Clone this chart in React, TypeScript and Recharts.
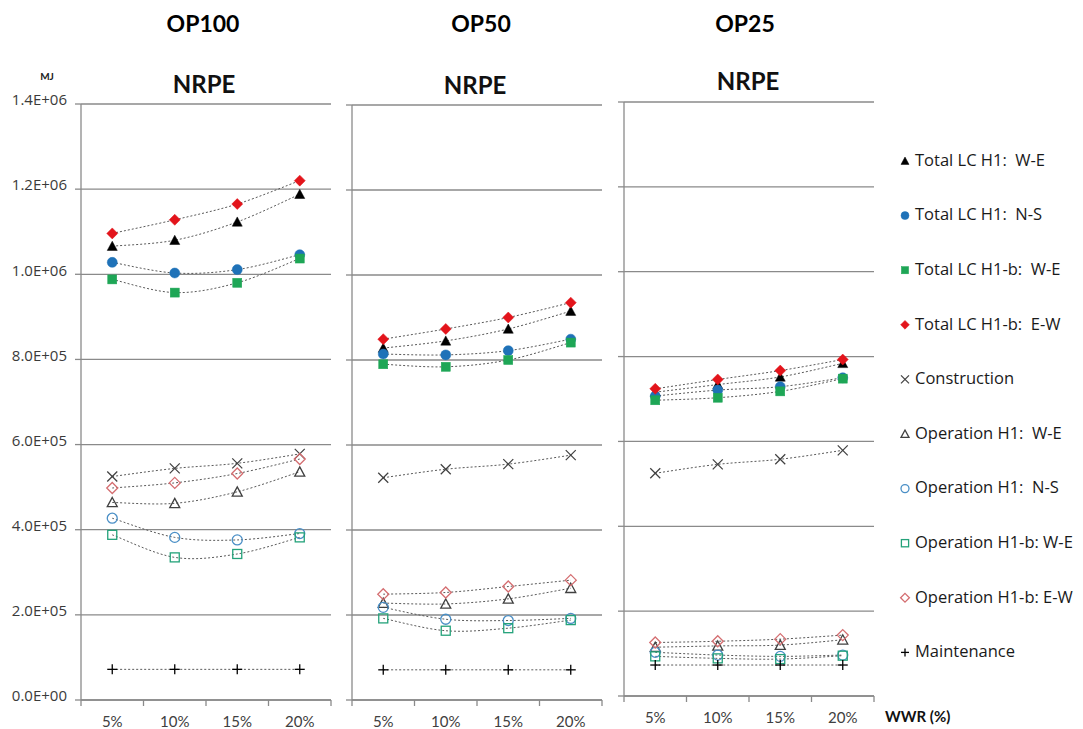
import React from 'react';
import { LineChart, Line, XAxis, YAxis, CartesianGrid } from 'recharts';

// ---------- data ----------
const categories = ['5%', '10%', '15%', '20%'];
const panelTitles = ['OP100', 'OP50', 'OP25'];
const yTicks = [0, 200000, 400000, 600000, 800000, 1000000, 1200000, 1400000];
const seriesNames = [
  'Total LC H1:  W-E',
  'Total LC H1:  N-S',
  'Total LC H1-b:  W-E',
  'Total LC H1-b:  E-W',
  'Construction',
  'Operation H1:  W-E',
  'Operation H1:  N-S',
  'Operation H1-b: W-E',
  'Operation H1-b: E-W',
  'Maintenance',
];

// OP100
const op100TotalH1WE = [1066000, 1080000, 1123000, 1188000];
const op100TotalH1NS = [1028000, 1003000, 1011000, 1046000];
const op100TotalH1bWE = [988000, 957000, 980000, 1037000];
const op100TotalH1bEW = [1096000, 1128000, 1165000, 1220000];
const op100Construction = [525000, 544000, 556000, 578000];
const op100OpH1WE = [464000, 462000, 489000, 536000];
const op100OpH1NS = [427000, 382000, 376000, 391000];
const op100OpH1bWE = [388000, 335000, 343000, 382000];
const op100OpH1bEW = [498000, 510000, 532000, 566000];
const op100Maintenance = [72000, 72000, 72000, 72000];

// OP50
const op50TotalH1WE = [828000, 845000, 873000, 915000];
const op50TotalH1NS = [814000, 812000, 822000, 849000];
const op50TotalH1bWE = [790000, 784000, 800000, 841000];
const op50TotalH1bEW = [849000, 873000, 900000, 935000];
const op50Construction = [523000, 543000, 555000, 576000];
const op50OpH1WE = [228000, 226000, 238000, 263000];
const op50OpH1NS = [218000, 190000, 187000, 192000];
const op50OpH1bWE = [192000, 163000, 169000, 188000];
const op50OpH1bEW = [249000, 253000, 267000, 282000];
const op50Maintenance = [71000, 71000, 71000, 71000];

// OP25
const op25TotalH1WE = [716000, 734000, 752000, 784000];
const op25TotalH1NS = [707000, 721000, 729000, 750000];
const op25TotalH1bWE = [697000, 703000, 718000, 748000];
const op25TotalH1bEW = [724000, 746000, 767000, 793000];
const op25Construction = [525000, 546000, 558000, 579000];
const op25OpH1WE = [115000, 118000, 120000, 132500];
const op25OpH1NS = [103000, 96500, 93400, 96500];
const op25OpH1bWE = [93400, 88700, 87000, 95000];
const op25OpH1bEW = [126000, 129000, 134000, 143500];
const op25Maintenance = [73000, 73000, 73000, 73000];

const panelSeries = [
  [op100TotalH1WE, op100TotalH1NS, op100TotalH1bWE, op100TotalH1bEW, op100Construction, op100OpH1WE, op100OpH1NS, op100OpH1bWE, op100OpH1bEW, op100Maintenance],
  [op50TotalH1WE, op50TotalH1NS, op50TotalH1bWE, op50TotalH1bEW, op50Construction, op50OpH1WE, op50OpH1NS, op50OpH1bWE, op50OpH1bEW, op50Maintenance],
  [op25TotalH1WE, op25TotalH1NS, op25TotalH1bWE, op25TotalH1bEW, op25Construction, op25OpH1WE, op25OpH1NS, op25OpH1bWE, op25OpH1bEW, op25Maintenance],
];

// ---------- styles ----------
const markerStyles = [
  { kind: 'tri', color: '#000000', filled: true },
  { kind: 'circle', color: '#1f72b8', filled: true },
  { kind: 'square', color: '#1ea656', filled: true },
  { kind: 'diamond', color: '#e3141b', filled: true },
  { kind: 'x', color: '#404040', filled: false },
  { kind: 'tri', color: '#404040', filled: false },
  { kind: 'circle', color: '#4a8fc6', filled: false },
  { kind: 'square', color: '#24a27a', filled: false },
  { kind: 'diamond', color: '#d46d70', filled: false },
  { kind: 'plus', color: '#000000', filled: false },
];

const TITLE_FONT = "Lato, 'Open Sans', sans-serif";
const TEXT_FONT = "'Open Sans', 'Noto Sans', sans-serif";
const GRID = '#8a8a8a';

// Excel-like smoothed line (Catmull-Rom through the points)
const smoothCurve: any = (context: any) => {
  let pts: number[][] = [];
  return {
    areaStart() {},
    areaEnd() {},
    lineStart() {
      pts = [];
    },
    point(x: number, y: number) {
      pts.push([+x, +y]);
    },
    lineEnd() {
      if (!pts.length) return;
      context.moveTo(pts[0][0], pts[0][1]);
      for (let i = 0; i < pts.length - 1; i++) {
        const p0 = pts[i - 1] || pts[i];
        const p1 = pts[i];
        const p2 = pts[i + 1];
        const p3 = pts[i + 2] || p2;
        context.bezierCurveTo(
          p1[0] + (p2[0] - p0[0]) / 6,
          p1[1] + (p2[1] - p0[1]) / 6,
          p2[0] - (p3[0] - p1[0]) / 6,
          p2[1] - (p3[1] - p1[1]) / 6,
          p2[0],
          p2[1]
        );
      }
    },
  };
};

function Marker({ cx, cy, kind, color, filled, s = 5 }: any) {
  const fill = filled ? color : 'none';
  const stroke = color;
  const sw = filled ? 0.5 : 1.3;
  switch (kind) {
    case 'tri':
      return (
        <polygon
          points={`${cx},${cy - s} ${cx + s},${cy + s * 0.85} ${cx - s},${cy + s * 0.85}`}
          fill={fill}
          stroke={stroke}
          strokeWidth={sw}
        />
      );
    case 'circle':
      return <circle cx={cx} cy={cy} r={s} fill={fill} stroke={stroke} strokeWidth={sw} />;
    case 'square':
      return <rect x={cx - s * 0.9} y={cy - s * 0.9} width={s * 1.8} height={s * 1.8} fill={fill} stroke={stroke} strokeWidth={sw} />;
    case 'diamond':
      return (
        <polygon
          points={`${cx},${cy - s * 1.1} ${cx + s * 1.1},${cy} ${cx},${cy + s * 1.1} ${cx - s * 1.1},${cy}`}
          fill={fill}
          stroke={stroke}
          strokeWidth={sw}
        />
      );
    case 'x':
      return (
        <g stroke={stroke} strokeWidth={1.2}>
          <line x1={cx - s} y1={cy - s} x2={cx + s} y2={cy + s} />
          <line x1={cx - s} y1={cy + s} x2={cx + s} y2={cy - s} />
        </g>
      );
    case 'plus':
    default:
      return (
        <g stroke={stroke} strokeWidth={1.3}>
          <line x1={cx - s} y1={cy} x2={cx + s} y2={cy} />
          <line x1={cx} y1={cy - s} x2={cx} y2={cy + s} />
        </g>
      );
  }
}

function fmtSci(v: number) {
  if (v === 0) return '0.0E+00';
  const e = Math.floor(Math.log10(v) + 1e-9);
  const m = v / Math.pow(10, e);
  return `${m.toFixed(1)}E+${String(e).padStart(2, '0')}`;
}

function XTick(props: any) {
  const { x, y, payload } = props;
  const v = payload.value;
  const axisY = y - 16;
  if (Number.isInteger(v)) {
    return <line x1={x} y1={axisY} x2={x} y2={axisY + 6} stroke={GRID} strokeWidth={1.3} />;
  }
  const label = categories[Math.floor(v)];
  return (
    <text x={x} y={y} dy="0.71em" textAnchor="middle" fontFamily={TITLE_FONT} fontSize={15} fill="#404040">
      {label}
    </text>
  );
}

function YTickLabel(props: any) {
  const { x, y, payload } = props;
  return (
    <text x={x} y={y - 4} dy="0.355em" textAnchor="end" fontFamily={TEXT_FONT} fontSize={15} fill="#3a3a3a">
      {fmtSci(payload.value)}
    </text>
  );
}

function EmptyTick() {
  return <g />;
}

const xTicks = [0, 0.5, 1, 1.5, 2, 2.5, 3, 3.5, 4];

const TOPM = 20;
const panelLayout = [
  { left: 0, top: 104, yw: 81, plotH: 596, showLabels: true },
  { left: 342, top: 105, yw: 10, plotH: 595, showLabels: false },
  { left: 614, top: 102, yw: 10, plotH: 594, showLabels: false },
];

function Panel({ index }: { index: number }) {
  const lay = panelLayout[index];
  const series = panelSeries[index];
  const rows = categories.map((c, i) => {
    const row: any = { x: i + 0.5, cat: c };
    series.forEach((arr, si) => {
      row[`s${si}`] = arr[i];
    });
    return row;
  });
  const width = lay.yw + 250 + 10;
  const height = TOPM + lay.plotH + 30;
  return (
    <div style={{ position: 'absolute', left: lay.left, top: lay.top - TOPM }}>
      <LineChart width={width} height={height} data={rows} margin={{ top: TOPM, right: 10, left: 0, bottom: 0 }}>
        <CartesianGrid vertical={false} horizontal={true} stroke={GRID} strokeWidth={1.3} />
        <XAxis
          type="number"
          dataKey="x"
          domain={[0, 4]}
          ticks={xTicks}
          interval={0}
          tick={<XTick />}
          tickLine={false}
          tickSize={6}
          tickMargin={10}
          height={30}
          axisLine={{ stroke: GRID, strokeWidth: 1.3 }}
        />
        <YAxis
          type="number"
          domain={[0, 1400000]}
          ticks={yTicks}
          interval={0}
          width={lay.yw}
          tickSize={6}
          tickMargin={8}
          tick={lay.showLabels ? <YTickLabel /> : <EmptyTick />}
          tickLine={{ stroke: GRID, strokeWidth: 1.3 }}
          axisLine={{ stroke: GRID, strokeWidth: 1.3 }}
        />
        {series.map((_, si) => {
          const ms = markerStyles[si];
          return (
            <Line
              key={si}
              dataKey={`s${si}`}
              name={seriesNames[si]}
              type={smoothCurve}
              stroke="#5a5a5a"
              strokeWidth={1}
              strokeDasharray="2 2"
              isAnimationActive={false}
              activeDot={false}
              dot={(p: any) => (
                <Marker key={`d${si}-${p.index}`} cx={p.cx} cy={p.cy} kind={ms.kind} color={ms.color} filled={ms.filled} />
              )}
            />
          );
        })}
      </LineChart>
    </div>
  );
}

const titleX = [203, 481, 745];
const nrpeX = [204, 475, 748];
const nrpeY = [93, 94, 90];

export default function App() {
  return (
    <div style={{ position: 'absolute', left: 0, top: 0, width: 1083, height: 729, background: '#ffffff', overflow: 'hidden' }}>
      <svg width={1083} height={729} style={{ position: 'absolute', left: 0, top: 0 }}>
        {panelTitles.map((t, i) => (
          <g key={t}>
            <text x={titleX[i]} y={32} textAnchor="middle" fontFamily={TITLE_FONT} fontWeight={700} fontSize={23} fill="#000">
              {t}
            </text>
            <text x={nrpeX[i]} y={nrpeY[i]} textAnchor="middle" fontFamily={TITLE_FONT} fontWeight={700} fontSize={24} fill="#111">
              NRPE
            </text>
          </g>
        ))}
        <text x={47} y={80} textAnchor="middle" fontFamily={TITLE_FONT} fontWeight={700} fontSize={10} fill="#222">
          MJ
        </text>
        <text x={885} y={722} fontFamily={TITLE_FONT} fontWeight={700} fontSize={15} fill="#111">
          WWR (%)
        </text>
        {seriesNames.map((n, i) => {
          const y = 160 + 54.6 * i;
          const ms = markerStyles[i];
          return (
            <g key={n}>
              <Marker cx={905} cy={y + 1} kind={ms.kind} color={ms.color} filled={ms.filled} s={4} />
              <text
                x={915}
                y={y}
                dy="0.35em"
                fontFamily={TEXT_FONT}
                fontSize={16.5}
                fill="#1a1a1a"
                style={{ whiteSpace: 'pre' }}
              >
                {n}
              </text>
            </g>
          );
        })}
      </svg>
      {[0, 1, 2].map((i) => (
        <Panel key={i} index={i} />
      ))}
    </div>
  );
}
